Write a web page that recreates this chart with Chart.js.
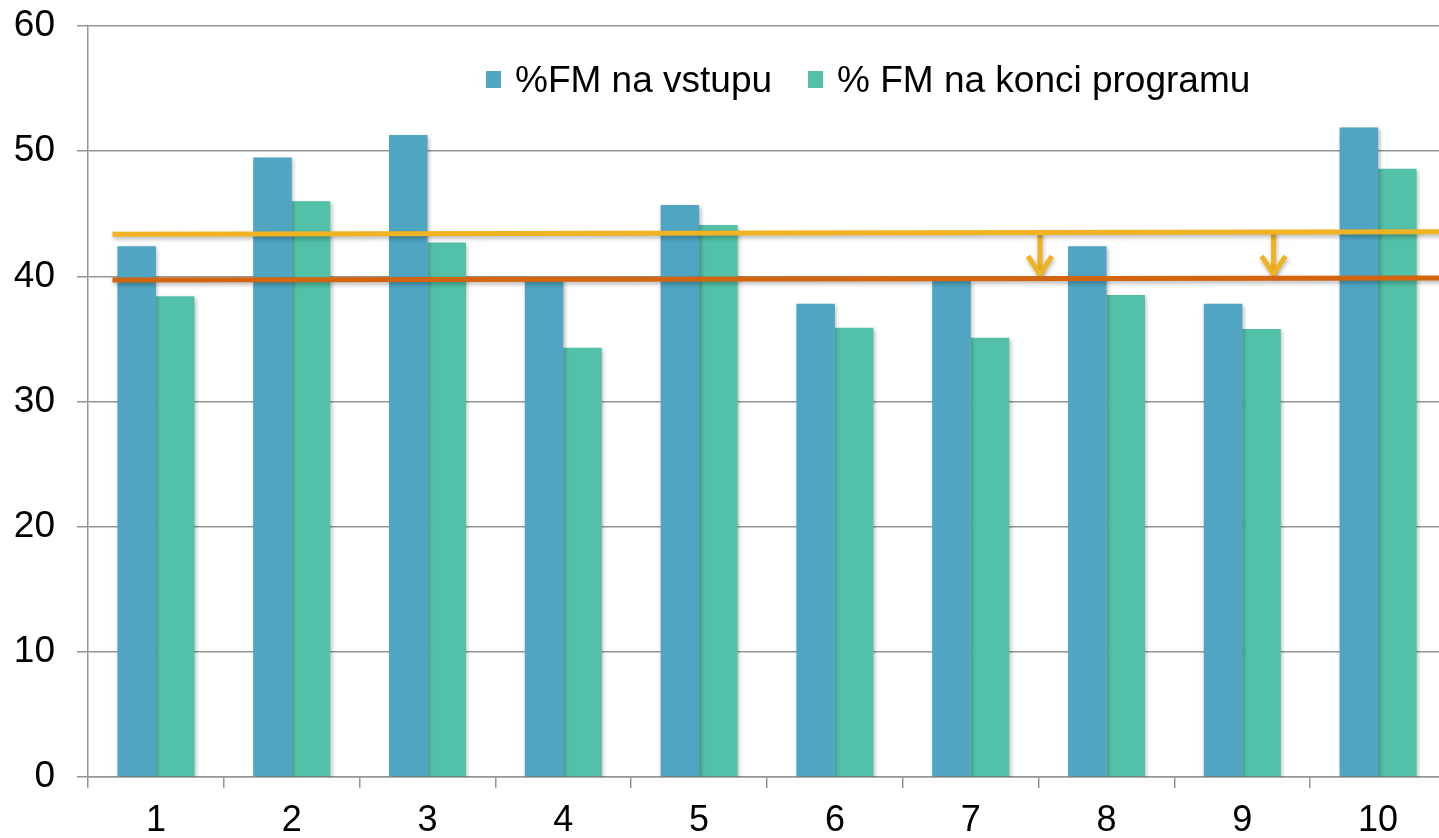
<!DOCTYPE html>
<html>
<head>
<meta charset="utf-8">
<script src="https://cdn.jsdelivr.net/npm/chart.js@4.4.0/dist/chart.umd.min.js"></script>
<style>
html,body{margin:0;padding:0;overflow:hidden;background:#fff;width:1439px;height:838px;}
#wrap{position:relative;width:1446px;height:842px;}
canvas{display:block;}
.leg{position:absolute;top:61px;height:37px;display:flex;align-items:center;font-family:"Liberation Sans",Arial,sans-serif;font-size:37px;line-height:37px;color:#000;white-space:nowrap;}
.leg i{display:inline-block;width:15px;height:17px;margin-right:14px;}
</style>
</head>
<body>
<div id="wrap">
  <canvas id="c" width="1446" height="842"></canvas>
  <div id="legend"></div>
</div>
<script>
// ---- data ----
const categories = ['1','2','3','4','5','6','7','8','9','10'];
const seriesNames = ['%FM na vstupu', '% FM na konci programu'];
const vstup = [42.4, 49.5, 51.3, 39.7, 45.7, 37.8, 39.7, 42.4, 37.8, 51.9];
const konec = [38.4, 46.0, 42.7, 34.3, 44.1, 35.9, 35.1, 38.5, 35.8, 48.6];
const yTicks = [0, 10, 20, 30, 40, 50, 60];
// reference lines (x in category units 0..10, y in %)
const upperLineX = [0.18, 10];
const upperLineY = [43.36, 43.56];
const lowerLineX = [0.18, 10];
const lowerLineY = [39.71, 39.86];
// arrows (x in category units), from upper line down to lower line
const arrowX = [7.01, 8.73];
const arrowTop = [43.5, 43.52];
const arrowBottom = [39.85, 39.86];

// ---- styles ----
const BLUE = '#4FA5C2', GREEN = '#52C1A8', YELLOW = '#F0B323', ORANGE = '#D4650F', GRID = '#959595';
Chart.defaults.font.family = '"Liberation Sans", Arial, sans-serif';
Chart.defaults.font.size = 36;
Chart.defaults.color = '#000';

const refLines = [
  {xs: upperLineX, ys: upperLineY, color: YELLOW},
  {xs: lowerLineX, ys: lowerLineY, color: ORANGE}
];

const shadowPlugin = {
  id: 'shadow',
  beforeDatasetDraw(chart) {
    const ctx = chart.ctx;
    ctx.save();
    ctx.shadowColor = 'rgba(0,0,0,0.28)';
    ctx.shadowBlur = 4;
    ctx.shadowOffsetX = 1.5;
    ctx.shadowOffsetY = 2;
  },
  afterDatasetDraw(chart) { chart.ctx.restore(); }
};

function setShadow(ctx) {
  ctx.shadowColor = 'rgba(0,0,0,0.28)';
  ctx.shadowBlur = 4;
  ctx.shadowOffsetX = 1;
  ctx.shadowOffsetY = 2.5;
}

const annotationPlugin = {
  id: 'refLinesArrows',
  afterDatasetsDraw(chart) {
    const ctx = chart.ctx;
    const xs = chart.scales.x2, ys = chart.scales.y;
    const area = chart.chartArea;
    ctx.save();
    ctx.beginPath();
    ctx.rect(area.left, area.top - 5, area.right - area.left + 5, area.bottom - area.top + 10);
    ctx.clip();
    arrowX.forEach((ax, i) => {
      const px = xs.getPixelForValue(ax);
      const pTop = ys.getPixelForValue(arrowTop[i]);
      const pBot = ys.getPixelForValue(arrowBottom[i]);
      ctx.save();
      setShadow(ctx);
      ctx.strokeStyle = YELLOW;
      ctx.lineWidth = 5;
      ctx.lineCap = 'butt';
      ctx.lineJoin = 'miter';
      ctx.beginPath();
      ctx.moveTo(px, pTop);
      ctx.lineTo(px, pBot - 4);
      ctx.stroke();
      ctx.beginPath();
      ctx.moveTo(px - 12, pBot - 22);
      ctx.lineTo(px, pBot - 4);
      ctx.lineTo(px + 12, pBot - 22);
      ctx.stroke();
      ctx.restore();
    });
    refLines.forEach(l => {
      ctx.save();
      setShadow(ctx);
      ctx.strokeStyle = l.color;
      ctx.lineWidth = 5;
      ctx.lineCap = 'butt';
      ctx.beginPath();
      l.xs.forEach((x, i) => {
        const px = xs.getPixelForValue(x), py = ys.getPixelForValue(l.ys[i]);
        if (i === 0) ctx.moveTo(px, py); else ctx.lineTo(px, py);
      });
      ctx.stroke();
      ctx.restore();
    });
    ctx.restore();
  }
};

const chart = new Chart(document.getElementById('c'), {
  type: 'bar',
  data: {
    labels: categories,
    datasets: [
      {label: seriesNames[0], data: vstup, backgroundColor: BLUE, borderWidth: 0},
      {label: seriesNames[1], data: konec, backgroundColor: GREEN, borderWidth: 0}
    ]
  },
  plugins: [shadowPlugin, annotationPlugin],
  options: {
    responsive: false,
    animation: false,
    events: [],
    categoryPercentage: 0.567,
    barPercentage: 1.0,
    layout: {padding: {top: 26, left: 0, right: 0, bottom: 0}},
    plugins: {legend: {display: false}, tooltip: {enabled: false}},
    scales: {
      x: {
        offset: true,
        grid: {display: true, offset: true, drawOnChartArea: false, drawTicks: true, tickLength: 11, color: GRID, lineWidth: 1.5},
        border: {display: true, color: GRID, width: 1.5},
        ticks: {padding: 11, font: {size: 36}, color: '#000', maxRotation: 0},
        afterFit(s) { s.height = 65; }
      },
      x2: {type: 'linear', display: false, min: 0, max: 10, offset: false},
      y: {
        min: yTicks[0], max: yTicks[yTicks.length - 1],
        afterBuildTicks(s) { s.ticks = yTicks.map(v => ({value: v})); },
        grid: {color: GRID, lineWidth: 1.5, drawTicks: true, tickLength: 11},
        border: {display: true, color: GRID, width: 1.5},
        ticks: {padding: 22, font: {size: 37}, color: '#000'},
        afterFit(s) { s.width = 88; s.paddingTop = 0; s.paddingBottom = 0; }
      }
    }
  }
});

// legend built from the chart's datasets
const legendEl = document.getElementById('legend');
const legendLeft = [486, 808];
chart.data.datasets.forEach((ds, i) => {
  const d = document.createElement('div');
  d.className = 'leg';
  d.style.left = legendLeft[i] + 'px';
  const box = document.createElement('i');
  box.style.background = ds.backgroundColor;
  const t = document.createElement('span');
  t.textContent = ds.label;
  d.appendChild(box); d.appendChild(t);
  legendEl.appendChild(d);
});
</script>
</body>
</html>
